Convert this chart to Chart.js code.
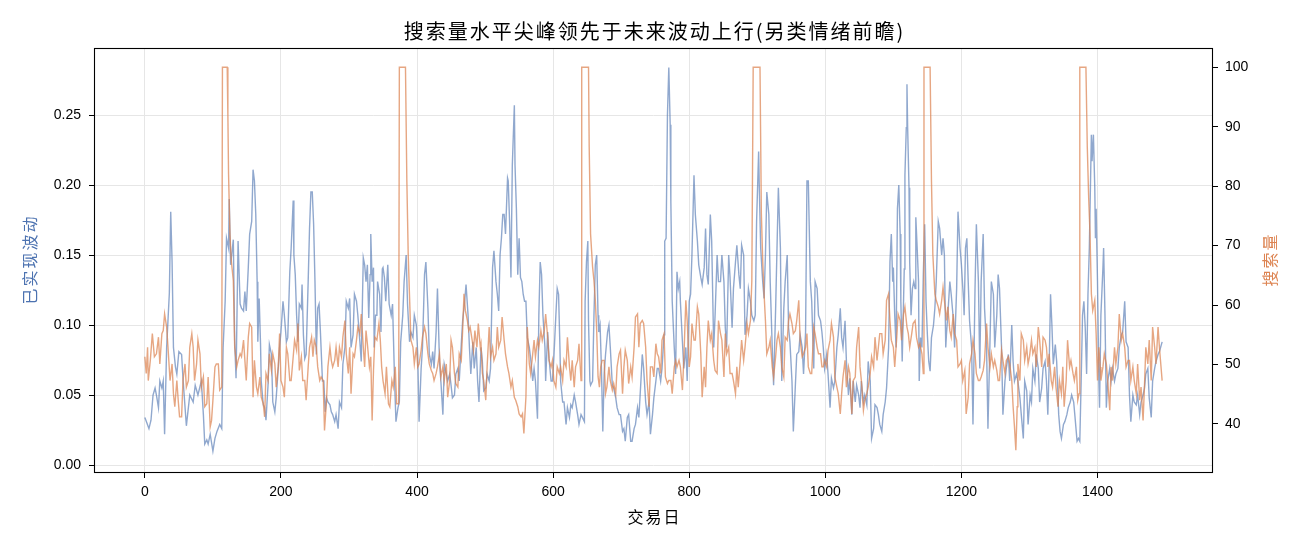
<!DOCTYPE html>
<html>
<head>
<meta charset="utf-8">
<script src="https://cdn.jsdelivr.net/npm/chart.js@4.4.1/dist/chart.umd.min.js"></script>
<style>
  html, body { margin: 0; padding: 0; background: #ffffff; }
  #wrap { width: 1300px; height: 546px; }
</style>
</head>
<body>
<div id="wrap"><canvas id="chartVolSearch" width="1300" height="546"></canvas></div>
<script>
// ============================================================
// DATOS
// ============================================================
const xTicks = [0, 200, 400, 600, 800, 1000, 1200, 1400];
const volTicks = [0, 0.05, 0.10, 0.15, 0.20, 0.25];
const searchTicks = [40, 50, 60, 70, 80, 90, 100];

// [交易日, 已实现波动]
const volPoints = [
  [0,.034],[3,.030],[6,.026],[9,.032],[12,.050],[15,.055],[17,.050],[20,.041],[22,.060],[25,.055],[27,.060],[29,.022],
  [32,.084],[36,.123],[38,.181],[40,.145],[42,.084],[45,.070],[47,.065],[50,.081],[54,.079],[56,.062],[61,.028],[66,.050],
  [71,.045],[74,.057],[78,.050],[83,.060],[86,.036],[88,.015],[91,.018],[93,.015],[96,.022],[100,.010],[103,.019],[106,.024],
  [110,.029],[113,.026],[115,.084],[118,.117],[120,.162],[123,.155],[124,.190],[126,.143],[130,.161],[132,.088],[134,.062],
  [137,.160],[140,.115],[142,.112],[145,.110],[147,.124],[149,.110],[152,.141],[154,.165],[157,.174],[159,.211],
  [161,.203],[163,.179],[165,.131],[166,.088],[168,.119],[170,.086],[171,.060],[174,.043],[176,.041],[178,.032],[181,.057],
  [183,.086],[186,.079],[188,.045],[191,.038],[193,.048],[196,.069],[198,.084],[200,.095],[203,.117],[205,.107],[208,.088],
  [210,.091],[213,.138],[215,.155],[218,.189],[219,.150],[221,.136],[223,.107],[225,.088],[227,.115],[230,.112],[231,.129],
  [233,.093],[235,.076],[237,.079],[240,.131],[242,.169],[244,.195],[246,.195],[248,.172],[250,.131],[252,.079],[254,.112],
  [256,.115],[258,.095],[261,.060],[263,.060],[265,.038],[267,.048],[269,.045],[272,.043],[274,.038],[276,.036],[279,.031],
  [281,.036],[284,.026],[286,.045],[289,.041],[291,.072],[294,.084],[296,.117],[299,.112],[301,.119],[303,.084],[306,.093],
  [308,.122],[311,.117],[313,.107],[316,.088],[318,.074],[321,.148],[323,.143],[325,.131],
  [327,.143],[329,.105],[331,.136],[332,.165],[334,.131],[336,.141],[337,.084],[339,.107],[341,.107],[342,.131],[345,.122],
  [347,.095],[349,.140],[350,.141],[352,.134],[354,.117],[357,.143],[359,.115],[362,.107],[364,.115],[367,.060],[369,.031],
  [372,.041],[374,.045],[376,.088],[379,.107],[381,.131],[384,.150],[386,.115],[389,.088],[391,.095],[394,.091],[396,.107],
  [399,.100],[401,.079],[403,.031],[406,.069],[408,.084],[411,.136],[413,.145],[416,.112],[418,.079],[421,.072],[423,.081],
  [425,.069],[428,.095],[430,.126],[433,.074],[435,.060],[438,.036],[440,.072],[443,.065],[445,.060],[448,.065],[450,.057],
  [452,.048],[455,.050],[457,.065],[460,.069],[462,.060],[465,.086],[467,.103],[470,.117],[472,.129],[475,.107],[477,.084],
  [479,.065],[482,.088],[484,.069],[487,.084],[489,.060],
  [491,.045],[494,.084],[496,.074],[498,.053],[501,.055],[503,.065],[506,.060],[508,.069],[511,.141],[513,.153],[516,.131],
  [518,.122],[520,.110],[522,.150],[524,.162],[526,.179],[528,.179],[530,.165],[533,.205],[534,.203],[536,.174],[538,.134],
  [540,.214],[543,.257],[544,.214],[546,.183],[548,.136],[550,.162],[552,.134],[554,.131],[556,.122],[558,.117],[560,.117],
  [562,.091],[565,.084],[567,.076],[570,.060],[572,.069],[574,.060],[577,.033],[579,.107],[581,.145],[583,.136],[585,.107],
  [588,.084],[589,.060],[592,.095],[594,.076],[597,.060],[599,.060],[601,.076],[604,.107],[606,.126],[608,.122],[610,.084],
  [611,.060],[614,.045],[616,.045],[619,.029],[621,.041],[624,.034],[626,.043],[628,.041],[631,.050],[633,.045],[636,.036],
  [638,.029],[641,.036],[643,.034],[646,.031],[647,.117],[649,.145],[651,.160],[652,.103],[654,.060],[655,.057],[658,.060],
  [660,.107],[662,.143],[664,.150],[666,.107],[667,.095],[669,.100],[671,.069],[673,.024],[675,.065],[677,.079],[680,.095],
  [682,.100],[684,.084],[687,.057],[689,.055],[692,.048],[694,.041],[697,.036],[699,.036],[702,.024],[704,.026],[706,.017],
  [709,.034],[711,.036],[714,.017],[716,.017],[719,.026],[721,.029],[724,.041],[726,.034],[729,.060],[731,.079],[733,.069],
  [736,.045],[738,.036],[741,.045],[743,.022],[746,.036],[748,.048],[751,.060],[753,.069],[755,.069],[758,.060],[760,.069],
  [763,.093],[764,.160],[766,.162],[768,.250],[770,.284],[772,.243],[773,.188],[775,.117],[778,.084],[780,.065],[782,.138],
  [784,.126],[786,.131],[787,.117],[790,.088],[792,.069],[795,.084],[797,.060],[800,.117],[802,.122],[804,.150],[807,.207],
  [809,.179],[812,.160],[814,.143],[817,.134],[819,.129],[822,.141],[824,.169],
  [826,.136],[828,.129],[831,.179],[833,.160],[836,.084],[838,.107],[841,.150],[843,.131],[846,.131],[848,.150],[851,.131],
  [853,.098],[855,.084],[858,.150],[860,.134],[863,.098],[865,.126],[868,.145],[870,.157],[873,.136],[875,.126],[877,.157],
  [880,.150],[882,.093],[885,.107],[887,.126],[890,.117],[892,.107],[895,.103],[897,.107],[899,.174],[902,.224],[903,.198],
  [905,.155],[908,.131],[910,.119],[912,.150],[914,.195],[917,.179],[919,.131],[922,.084],[924,.057],[927,.112],[929,.155],
  [931,.198],[934,.155],[936,.060],[939,.112],[941,.131],[944,.150],[946,.098],[948,.088],[951,.060],[953,.024],[956,.057],
  [958,.079],[961,.081],[963,.093],[966,.084],[968,.065],[971,.095],[973,.203],[975,.203],[978,.131],[980,.117],[983,.069],
  [985,.131],[988,.126],[990,.107],[993,.103],
  [995,.095],[997,.084],[999,.069],[1002,.079],[1004,.065],[1007,.041],[1009,.062],[1012,.055],[1014,.060],[1017,.084],
  [1019,.093],[1022,.112],[1024,.091],[1026,.084],[1029,.103],[1031,.074],[1034,.050],[1036,.062],[1039,.036],[1041,.060],
  [1044,.045],[1046,.057],[1049,.050],[1051,.041],[1053,.060],[1056,.045],[1058,.050],[1061,.043],[1063,.074],[1066,.060],
  [1068,.019],[1071,.026],[1073,.043],[1076,.041],[1078,.036],[1080,.029],[1083,.024],[1085,.036],[1088,.045],[1090,.055],
  [1093,.084],[1095,.145],[1097,.165],[1099,.131],[1100,.141],[1102,.107],[1104,.084],[1106,.183],[1108,.200],[1110,.165],
  [1111,.117],[1113,.074],[1116,.140],[1117,.207],[1119,.241],[1120,.272],[1121,.241],[1123,.198],[1124,.145],[1126,.107],
  [1128,.126],[1130,.131],[1132,.126],[1133,.177],[1135,.155],[1137,.131],[1138,.060],[1140,.091],[1142,.084],[1144,.136],
  [1146,.172],[1148,.117],[1150,.093],[1152,.074],[1154,.067],[1156,.091],[1159,.100],
  [1161,.112],[1163,.131],[1166,.174],[1168,.169],[1171,.150],[1173,.162],[1175,.150],[1177,.084],[1178,.093],[1180,.107],
  [1183,.131],[1185,.122],[1188,.105],[1190,.084],[1193,.126],[1195,.181],[1198,.155],[1200,.143],[1203,.119],[1204,.107],
  [1206,.155],[1208,.162],[1210,.131],[1212,.103],[1215,.084],[1217,.029],[1220,.126],[1222,.172],[1225,.131],[1227,.069],
  [1229,.131],[1232,.165],[1234,.112],[1237,.084],[1239,.026],[1242,.088],[1244,.131],[1247,.122],[1249,.084],[1252,.107],
  [1254,.136],[1256,.126],[1259,.084],[1261,.036],[1264,.060],[1266,.069],[1269,.079],[1271,.060],[1274,.100],[1276,.074],
  [1278,.060],[1281,.065],[1283,.060],[1286,.048],[1288,.036],[1291,.019],[1293,.060],[1296,.053],[1298,.029],[1301,.050],
  [1303,.045],[1305,.069],[1308,.060],[1310,.079],[1313,.069],[1315,.045],[1318,.055],[1320,.069],[1323,.074],[1325,.060],
  [1327,.036],[1329,.072],[1331,.122],[1333,.100],[1335,.072],[1338,.086],[1340,.074],[1343,.036],[1345,.024],[1347,.019],
  [1350,.029],[1352,.031],[1355,.036],[1357,.041],[1360,.045],[1362,.050],[1365,.045],[1367,.034],[1370,.017],[1372,.019],
  [1374,.017],[1376,.060],[1378,.107],[1380,.117],[1382,.098],[1384,.065],[1386,.122],[1388,.155],[1391,.236],[1392,.217],
  [1394,.236],[1396,.198],[1397,.162],[1398,.183],[1400,.131],[1402,.060],[1403,.041],[1405,.107],[1408,.141],[1409,.155],
  [1411,.107],[1413,.041],[1415,.060],[1418,.069],[1420,.060],[1422,.069],[1425,.060],[1427,.065],[1430,.069],[1432,.084],
  [1435,.093],[1437,.095],[1440,.117],[1442,.088],[1445,.084],[1447,.050],[1449,.031],[1452,.050],[1454,.045],[1457,.043],
  [1459,.050],[1462,.036],[1464,.045],[1467,.050],[1469,.055],[1471,.065],[1474,.069],[1476,.048],[1479,.034],[1481,.060],
  [1484,.069],[1486,.074],[1489,.079],[1491,.081],[1495,.088]
];

// [交易日, 搜索量]
const searchPoints = [
  [0,51.3],[2,48.5],[4,52.9],[5,47.3],[8,50.7],[11,55.2],[14,51.3],[17,51.8],[20,54.6],[22,50.1],[25,55.2],[27,55.7],
  [29,58.5],[32,56.3],[34,52.9],[37,47.3],[40,50.1],[42,45.1],[44,42.9],[47,47.3],[49,44.0],[51,41.2],[54,41.2],[56,47.3],
  [59,50.1],[61,46.2],[64,47.3],[66,52.9],[69,55.2],[71,52.9],[73,47.3],[76,50.1],[78,54.1],[81,51.8],[83,46.2],[86,47.9],
  [88,42.9],[91,43.4],[93,47.9],[96,39.5],[98,40.6],[100,44.0],[103,49.6],[105,50.1],[108,50.1],[110,45.7],[113,46.2],
  [114,100],[121,100],[122,92],[123,82],[125,72.0],[127,67.5],[130,64.1],[132,52.9],[135,49.6],[137,50.7],[140,51.8],
  [142,51.3],[145,54.1],[147,50.7],[149,47.3],[152,54.6],[154,56.9],[157,56.3],[159,44.5],
  [161,50.7],[164,46.2],[166,45.1],[169,47.9],[171,44.5],[174,43.4],[176,41.2],[178,48.5],[181,47.3],[183,51.8],[186,49.0],
  [188,51.8],[191,50.1],[193,46.2],[196,49.6],[198,55.2],[200,47.3],[203,46.2],[205,44.5],[208,52.9],[210,51.8],[213,47.3],
  [215,47.3],[218,51.3],[220,54.1],[223,52.4],[225,56.9],[227,49.0],[230,51.3],[232,47.3],[235,47.3],[237,44.0],[240,49.6],
  [242,52.9],[245,54.6],[247,51.3],[249,54.1],[252,52.9],[254,49.6],[257,47.3],[259,47.9],[262,47.3],[264,38.9],[267,44.0],
  [269,49.6],[272,52.9],[274,50.7],[276,49.6],[279,50.7],[281,52.9],[284,49.6],[286,52.9],[289,51.3],[291,54.6],[294,57.4],
  [296,51.8],[299,48.5],[301,52.9],[303,45.1],[306,51.8],[308,51.3],[311,54.1],[313,56.3],[316,55.2],[318,58.5],[321,52.9],
  [323,49.6],[325,55.7],
  [327,53.5],[330,49.6],[332,51.3],[334,40.6],[336,49.0],[338,54.6],[341,54.1],[344,56.9],[346,54.1],[348,49.6],[350,47.3],
  [353,45.1],[355,49.6],[358,43.4],[360,42.9],[363,47.3],[365,46.2],[368,49.6],[370,43.4],[373,43.4],[374,100],[383,100],
  [385,81.0],[387,68.6],[389,61.3],[391,54.1],[394,52.9],[396,50.1],[399,52.9],[401,49.6],[403,50.1],[406,52.4],[408,54.6],
  [411,56.3],[413,55.2],[416,51.8],[418,50.1],[421,49.0],[423,48.5],[425,47.3],[428,48.5],[430,49.6],[433,51.8],[435,47.9],
  [438,49.6],[440,47.3],[443,50.1],[445,44.5],[448,47.3],[450,54.1],[452,52.9],[455,48.5],[457,46.8],[460,46.2],[462,51.8],
  [465,50.7],[467,55.7],[469,61.9],[471,59.1],[474,57.4],[476,55.7],[478,56.3],[481,54.1],[483,52.4],[485,55.7],[488,52.9],
  [490,56.9],[493,52.9],
  [494,53.5],[496,48.5],[498,47.3],[501,44.0],[503,49.6],[506,56.3],[508,51.3],[511,52.9],[513,50.7],[516,51.8],[518,56.3],
  [520,52.9],[523,54.1],[525,58.0],[528,54.1],[530,51.8],[533,49.6],[535,48.5],[538,46.2],[540,47.3],[543,44.5],[545,44.0],
  [548,42.9],[550,41.7],[553,41.2],[555,41.7],[557,38.4],[560,44.5],[562,56.3],[565,50.1],[567,48.5],[570,51.8],[572,54.1],
  [574,51.3],[577,54.1],[579,52.9],[582,55.7],[584,54.1],[587,55.7],[589,58.5],[592,54.6],[594,50.7],[597,49.6],[599,50.7],
  [601,47.3],[604,46.2],[606,49.6],[609,48.5],[611,49.6],[614,47.3],[616,50.7],[619,49.6],[621,54.6],[624,49.6],[626,47.3],
  [628,50.7],[631,46.2],[633,49.6],[636,50.7],[638,53.5],[641,47.3],[642,100],[652,100],[653,86.6],[655,72.0],[658,66.4],
  [660,64.1],[662,60.8],[664,55.7],[666,48.0],[668,46.2],[670,49.6],[672,50.7],[675,50.7],[677,45.1],[679,46.2],[682,49.6],
  [684,47.3],[687,45.7],[689,46.8],[692,45.1],[694,49.6],[697,51.8],[699,52.4],[702,45.1],[704,49.6],[706,52.4],[709,50.7],
  [711,46.8],[714,49.6],[716,47.9],[719,52.9],[721,58.0],[724,58.5],[726,52.9],[728,56.9],[731,57.4],[733,56.9],[736,52.9],
  [738,47.3],[741,42.9],[743,49.6],[746,49.6],[748,47.9],[751,53.5],[753,51.8],[755,51.3],[758,48.5],[760,54.1],[763,55.2],
  [765,47.9],[768,46.8],[770,47.3],[773,47.3],[775,45.1],[778,49.6],[780,50.7],[782,49.6],[785,50.7],[787,49.6],[790,45.7],
  [792,50.7],[795,60.8],[797,57.4],[800,49.6],[802,51.3],[804,56.9],[807,54.1],[809,54.1],[812,59.7],[814,58.5],[817,51.8],
  [819,44.5],[822,49.6],[824,46.2],
  [826,52.9],[828,57.4],[831,54.1],[833,55.2],[836,50.7],[838,49.0],[841,48.5],[843,57.4],[846,55.2],[848,54.1],[851,47.9],
  [853,55.2],[855,51.8],[858,52.9],[860,48.5],[863,48.5],[865,47.3],[868,45.1],[870,49.6],[872,46.2],[875,50.7],[877,54.1],
  [880,50.7],[882,52.9],[885,56.9],[887,55.2],[890,57.4],[892,64.1],[894,100],[904,100],[906,75.4],[908,67.5],[910,61.9],
  [912,57.4],[914,51.8],[917,52.9],[919,54.1],[922,49.6],[924,47.9],[927,51.3],[929,54.1],[931,55.2],[934,52.9],[936,49.6],
  [939,47.9],[941,54.6],[944,54.1],[946,57.4],[948,58.5],[951,56.9],[953,55.2],[956,55.7],[958,57.4],[961,60.8],[963,54.1],
  [966,51.3],[968,51.8],[971,52.9],[973,55.2],[975,49.6],[978,48.5],[980,48.5],[983,56.3],[985,55.2],[988,52.9],[990,51.8],
  [993,51.8],
  [995,49.6],[997,49.6],[999,50.7],[1002,49.6],[1004,52.4],[1007,54.1],[1009,56.9],[1012,54.6],[1014,47.9],[1017,46.2],
  [1019,45.1],[1022,41.7],[1024,45.1],[1026,47.9],[1029,50.7],[1031,46.2],[1034,49.6],[1036,48.5],[1039,41.7],[1041,47.3],
  [1044,47.9],[1046,52.9],[1049,56.3],[1051,49.6],[1053,47.3],[1056,42.3],[1058,44.0],[1061,45.1],[1063,46.2],[1066,48.5],
  [1068,51.3],[1071,49.6],[1073,54.6],[1076,50.7],[1078,52.9],[1080,55.2],[1083,55.2],[1085,51.8],[1088,54.1],[1090,60.8],
  [1093,61.9],[1095,57.4],[1097,54.1],[1100,52.9],[1102,49.6],[1105,54.6],[1107,58.5],[1110,57.4],[1112,54.1],[1115,58.5],
  [1117,59.7],[1120,56.3],[1122,55.2],[1124,52.9],[1127,55.2],[1129,56.9],[1132,57.4],[1134,54.6],[1137,52.9],[1139,53.5],
  [1142,51.8],[1144,48.5],[1145,100],[1154,100],[1156,81.0],[1158,68.6],
  [1161,61.9],[1163,60.8],[1166,59.7],[1168,58.5],[1171,60.8],[1173,63.0],[1176,59.7],[1178,57.4],[1180,59.7],[1183,55.7],
  [1185,54.6],[1188,58.5],[1190,55.2],[1193,54.1],[1195,49.6],[1198,50.1],[1200,50.7],[1202,47.3],[1205,49.0],[1207,41.7],
  [1210,44.5],[1212,50.1],[1215,51.8],[1217,54.1],[1220,51.8],[1222,48.5],[1225,47.3],[1227,47.3],[1229,47.9],[1232,49.0],
  [1234,50.7],[1237,56.9],[1239,52.9],[1242,49.6],[1244,51.8],[1247,49.6],[1249,50.7],[1252,49.0],[1254,47.3],[1256,47.3],
  [1259,52.4],[1261,50.7],[1264,48.5],[1266,50.7],[1269,51.3],[1271,50.1],[1274,47.3],[1276,42.9],[1278,39.5],[1280,35.6],
  [1282,42.9],[1283,50.1],[1286,47.3],[1288,55.2],[1291,54.1],[1293,50.7],[1296,52.9],[1298,50.1],[1300,51.3],[1303,54.1],
  [1305,51.8],[1308,52.9],[1310,49.6],[1313,56.3],[1315,54.1],[1318,49.6],[1320,54.6],[1323,54.1],[1325,52.9],
  [1327,49.6],[1329,51.8],[1332,47.3],[1334,46.2],[1337,49.6],[1339,46.2],[1342,42.9],[1344,47.3],[1347,45.1],[1349,49.6],
  [1351,42.9],[1354,47.3],[1356,54.1],[1359,49.6],[1361,50.7],[1364,48.5],[1366,47.3],[1369,49.6],[1371,44.0],[1373,45.1],
  [1374,100],[1383,100],[1385,86.6],[1387,78.2],[1389,72.0],[1391,61.9],[1393,59.1],[1396,60.8],[1398,55.2],[1400,47.3],
  [1402,52.9],[1404,49.6],[1405,47.3],[1408,49.6],[1410,51.8],[1413,50.1],[1415,47.3],[1418,42.3],[1420,49.6],[1422,47.3],
  [1425,52.9],[1427,50.1],[1430,52.9],[1432,58.5],[1435,54.1],[1437,55.2],[1440,52.9],[1442,49.6],[1445,50.7],[1447,50.7],
  [1449,47.3],[1452,49.6],[1454,47.3],[1457,45.1],[1459,50.1],[1462,44.0],[1464,46.2],[1467,40.6],[1469,46.2],[1471,52.9],
  [1474,50.1],[1476,54.1],[1479,47.3],[1481,56.3],[1484,52.9],[1486,50.1],[1489,56.3],[1491,52.9],[1495,47.3]
];

// ============================================================
// ESTILO
// ============================================================
const FONT_LAT = "'Liberation Sans', Arial, 'Noto Sans CJK SC', sans-serif";
const FONT_CJK = "'Noto Sans CJK SC', 'Liberation Sans', sans-serif";
const COL_VOL = '#4C72B0';
const COL_SEARCH = '#DD8452';

// marco + títulos dibujados a mano (ylabel derecho leído de abajo hacia arriba)
const textosPlugin = {
    id: 'textos',
    afterDraw(chart) {
        const { ctx, chartArea: a } = chart;
        ctx.save();
        ctx.strokeStyle = '#000000';
        ctx.lineWidth = 1.1;
        ctx.strokeRect(a.left + 0.5, a.top + 0.5, a.right - a.left - 1, a.bottom - a.top - 1);

        ctx.fillStyle = '#000000';
        ctx.textAlign = 'center';
        ctx.textBaseline = 'middle';
        ctx.letterSpacing = '2px';
        ctx.font = '20px ' + FONT_CJK;
        ctx.fillText('搜索量水平尖峰领先于未来波动上行(另类情绪前瞻)', (a.left + a.right) / 2 + 1, 31);

        ctx.letterSpacing = '2px';
        ctx.font = '16px ' + FONT_CJK;
        ctx.fillText('交易日', (a.left + a.right) / 2 + 1, 517);

        let cy = (a.top + a.bottom) / 2;
        ctx.save();
        ctx.translate(30, cy);
        ctx.rotate(-Math.PI / 2);
        ctx.fillStyle = COL_VOL;
        ctx.fillText('已实现波动', 1, 0);
        ctx.restore();

        ctx.save();
        ctx.translate(1270, cy);
        ctx.rotate(-Math.PI / 2);
        ctx.fillStyle = COL_SEARCH;
        ctx.fillText('搜索量', 1, 0);
        ctx.restore();
        ctx.restore();
    }
};

window.initGraficoVolSearch = function() {
    let ctx = document.getElementById('chartVolSearch');
    if (!ctx) return null;
    let tickFont = { family: FONT_LAT, size: 14 };

    return new Chart(ctx.getContext('2d'), {
        type: 'line',
        data: {
            datasets: [
                {
                    label: '已实现波动',
                    data: volPoints.map(p => ({ x: p[0], y: p[1] })),
                    yAxisID: 'yVol',
                    borderColor: 'rgba(76,114,176,0.62)',
                    borderWidth: 1.4,
                    pointRadius: 0,
                    tension: 0,
                    order: 2
                },
                {
                    label: '搜索量',
                    data: searchPoints.map(p => ({ x: p[0], y: p[1] })),
                    yAxisID: 'ySearch',
                    borderColor: 'rgba(221,132,82,0.72)',
                    borderWidth: 1.4,
                    pointRadius: 0,
                    tension: 0,
                    order: 1
                }
            ]
        },
        options: {
            responsive: false, animation: false, devicePixelRatio: 1,
            layout: { padding: { top: 48, left: 0, right: 0, bottom: 0 } },
            plugins: { legend: { display: false }, tooltip: { enabled: false }, title: { display: false } },
            scales: {
                x: {
                    type: 'linear', min: -74.75, max: 1569.75,
                    afterBuildTicks: s => { s.ticks = xTicks.map(v => ({ value: v })); },
                    afterFit: s => { s.height = 73; },
                    border: { display: false },
                    grid: { color: '#e6e6e6', lineWidth: 1, tickColor: '#000000', tickLength: 5 },
                    ticks: { color: '#000000', font: tickFont, padding: 6, maxRotation: 0, autoSkip: false, callback: v => String(v) }
                },
                yVol: {
                    type: 'linear', position: 'left', min: -0.0057, max: 0.2979,
                    afterBuildTicks: s => { s.ticks = volTicks.map(v => ({ value: v })); },
                    afterFit: s => { s.width = 94; },
                    border: { display: false },
                    grid: { color: '#e6e6e6', lineWidth: 1, tickColor: '#000000', tickLength: 5 },
                    ticks: { color: '#000000', font: tickFont, padding: 8, autoSkip: false, callback: v => v.toFixed(2) }
                },
                ySearch: {
                    type: 'linear', position: 'right', min: 31.75, max: 103.25,
                    afterBuildTicks: s => { s.ticks = searchTicks.map(v => ({ value: v })); },
                    afterFit: s => { s.width = 87; },
                    border: { display: false },
                    grid: { drawOnChartArea: false, tickColor: '#000000', tickLength: 5 },
                    ticks: { color: '#000000', font: tickFont, padding: 7, autoSkip: false, callback: v => String(v) }
                }
            }
        },
        plugins: [textosPlugin]
    });
};

let chartVolSearchInst = initGraficoVolSearch();
</script>
</body>
</html>
